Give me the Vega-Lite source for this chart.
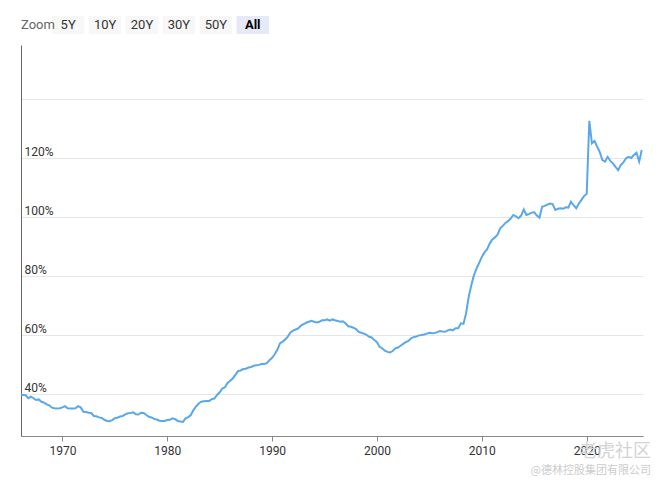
{
  "$schema": "https://vega.github.io/schema/vega-lite/v6.json",
  "background": "white",
  "padding": {"left": 21, "top": 16, "right": 0, "bottom": 0},
  "config": {"view": {"stroke": null}, "font": "Roboto", "concat": {"spacing": 11}},
  "vconcat": [
    {
      "width": 254,
      "height": 18,
      "data": {"values": [
        {"label": "Zoom"}, {"label": "5Y"}, {"label": "10Y"}, {"label": "20Y"},
        {"label": "30Y"}, {"label": "50Y"}, {"label": "All"}
      ]},
      "encoding": {
        "x": {"field": "label", "type": "nominal", "axis": null,
              "scale": {"domain": ["Zoom", "5Y", "10Y", "20Y", "30Y", "50Y", "All"], "paddingInner": 0.12, "paddingOuter": 0}}
      },
      "layer": [
        {
          "transform": [{"filter": "datum.label !== 'Zoom'"}],
          "mark": {"type": "rect", "xOffset": -6, "x2Offset": -6},
          "encoding": {
            "color": {"condition": {"test": "datum.label === 'All'", "value": "#e6e9f8"}, "value": "#f7f7f7"}
          }
        },
        {
          "transform": [{"filter": "datum.label === 'Zoom'"}],
          "mark": {"type": "text", "align": "left", "fontSize": 13, "color": "#666666"},
          "encoding": {"x": {"field": "label", "type": "nominal", "bandPosition": 0}, "text": {"field": "label"}}
        },
        {
          "transform": [{"filter": "datum.label !== 'Zoom' && datum.label !== 'All'"}],
          "mark": {"type": "text", "xOffset": -6, "fontSize": 13, "color": "#333333"},
          "encoding": {"text": {"field": "label"}}
        },
        {
          "transform": [{"filter": "datum.label === 'All'"}],
          "mark": {"type": "text", "xOffset": -6, "fontSize": 13, "fontWeight": "bold", "color": "#000000"},
          "encoding": {"text": {"field": "label"}}
        }
      ]
    },
    {
      "width": 622,
      "height": 391,
      "title": {
        "text": "老虎社区",
        "subtitle": "@德林控股集团有限公司",
        "orient": "bottom",
        "anchor": "end",
        "offset": -13,
        "dx": 8,
        "font": "Noto Sans CJK SC",
        "fontSize": 18,
        "fontWeight": "normal",
        "color": "#d4d4d4",
        "subtitleFont": "Noto Sans CJK SC",
        "subtitleFontSize": 11,
        "subtitleColor": "#cccccc",
        "subtitlePadding": 4
      },
      "data": {"values": [
        {"date": "1966-01-01", "value": 39.8}, {"date": "1966-04-01", "value": 39.7}, {"date": "1966-07-01", "value": 39.6}, {"date": "1966-10-01", "value": 38.6},
        {"date": "1967-01-01", "value": 39.1}, {"date": "1967-04-01", "value": 38.6}, {"date": "1967-07-01", "value": 38.0}, {"date": "1967-10-01", "value": 38.2},
        {"date": "1968-01-01", "value": 37.4}, {"date": "1968-04-01", "value": 37.1}, {"date": "1968-07-01", "value": 36.5}, {"date": "1968-10-01", "value": 36.2},
        {"date": "1969-01-01", "value": 35.4}, {"date": "1969-04-01", "value": 35.2}, {"date": "1969-07-01", "value": 35.1}, {"date": "1969-10-01", "value": 35.2},
        {"date": "1970-01-01", "value": 35.5}, {"date": "1970-04-01", "value": 35.9}, {"date": "1970-07-01", "value": 35.2}, {"date": "1970-10-01", "value": 35.1},
        {"date": "1971-01-01", "value": 35.1}, {"date": "1971-04-01", "value": 35.2}, {"date": "1971-07-01", "value": 35.9}, {"date": "1971-10-01", "value": 35.5},
        {"date": "1972-01-01", "value": 34.0}, {"date": "1972-04-01", "value": 33.9}, {"date": "1972-07-01", "value": 33.7}, {"date": "1972-10-01", "value": 33.6},
        {"date": "1973-01-01", "value": 32.6}, {"date": "1973-04-01", "value": 32.5}, {"date": "1973-07-01", "value": 32.1}, {"date": "1973-10-01", "value": 31.9},
        {"date": "1974-01-01", "value": 31.3}, {"date": "1974-04-01", "value": 30.9}, {"date": "1974-07-01", "value": 30.8}, {"date": "1974-10-01", "value": 31.2},
        {"date": "1975-01-01", "value": 31.8}, {"date": "1975-04-01", "value": 32.0}, {"date": "1975-07-01", "value": 32.4}, {"date": "1975-10-01", "value": 32.6},
        {"date": "1976-01-01", "value": 33.1}, {"date": "1976-04-01", "value": 33.5}, {"date": "1976-07-01", "value": 33.6}, {"date": "1976-10-01", "value": 33.8},
        {"date": "1977-01-01", "value": 33.2}, {"date": "1977-04-01", "value": 33.1}, {"date": "1977-07-01", "value": 33.7}, {"date": "1977-10-01", "value": 33.6},
        {"date": "1978-01-01", "value": 32.9}, {"date": "1978-04-01", "value": 32.3}, {"date": "1978-07-01", "value": 32.1}, {"date": "1978-10-01", "value": 31.6},
        {"date": "1979-01-01", "value": 31.4}, {"date": "1979-04-01", "value": 31.0}, {"date": "1979-07-01", "value": 30.9}, {"date": "1979-10-01", "value": 30.9},
        {"date": "1980-01-01", "value": 31.2}, {"date": "1980-04-01", "value": 31.3}, {"date": "1980-07-01", "value": 31.8}, {"date": "1980-10-01", "value": 31.5},
        {"date": "1981-01-01", "value": 30.9}, {"date": "1981-04-01", "value": 30.7}, {"date": "1981-07-01", "value": 30.6}, {"date": "1981-10-01", "value": 31.8},
        {"date": "1982-01-01", "value": 32.2}, {"date": "1982-04-01", "value": 32.9}, {"date": "1982-07-01", "value": 34.6}, {"date": "1982-10-01", "value": 35.8},
        {"date": "1983-01-01", "value": 36.8}, {"date": "1983-04-01", "value": 37.4}, {"date": "1983-07-01", "value": 37.6}, {"date": "1983-10-01", "value": 37.7},
        {"date": "1984-01-01", "value": 37.7}, {"date": "1984-04-01", "value": 38.3}, {"date": "1984-07-01", "value": 38.5}, {"date": "1984-10-01", "value": 39.7},
        {"date": "1985-01-01", "value": 40.6}, {"date": "1985-04-01", "value": 41.9}, {"date": "1985-07-01", "value": 42.3}, {"date": "1985-10-01", "value": 43.8},
        {"date": "1986-01-01", "value": 44.5}, {"date": "1986-04-01", "value": 45.3}, {"date": "1986-07-01", "value": 46.5}, {"date": "1986-10-01", "value": 47.8},
        {"date": "1987-01-01", "value": 48.0}, {"date": "1987-04-01", "value": 48.5}, {"date": "1987-07-01", "value": 48.6}, {"date": "1987-10-01", "value": 49.0},
        {"date": "1988-01-01", "value": 49.2}, {"date": "1988-04-01", "value": 49.6}, {"date": "1988-07-01", "value": 49.8}, {"date": "1988-10-01", "value": 49.9},
        {"date": "1989-01-01", "value": 50.2}, {"date": "1989-04-01", "value": 50.2}, {"date": "1989-07-01", "value": 50.5}, {"date": "1989-10-01", "value": 51.5},
        {"date": "1990-01-01", "value": 52.3}, {"date": "1990-04-01", "value": 53.5}, {"date": "1990-07-01", "value": 55.0}, {"date": "1990-10-01", "value": 57.2},
        {"date": "1991-01-01", "value": 57.8}, {"date": "1991-04-01", "value": 58.5}, {"date": "1991-07-01", "value": 59.5}, {"date": "1991-10-01", "value": 60.9},
        {"date": "1992-01-01", "value": 61.5}, {"date": "1992-04-01", "value": 61.9}, {"date": "1992-07-01", "value": 62.3}, {"date": "1992-10-01", "value": 63.2},
        {"date": "1993-01-01", "value": 63.7}, {"date": "1993-04-01", "value": 64.2}, {"date": "1993-07-01", "value": 64.5}, {"date": "1993-10-01", "value": 64.8},
        {"date": "1994-01-01", "value": 64.5}, {"date": "1994-04-01", "value": 64.3}, {"date": "1994-07-01", "value": 64.5}, {"date": "1994-10-01", "value": 65.0},
        {"date": "1995-01-01", "value": 65.0}, {"date": "1995-04-01", "value": 65.3}, {"date": "1995-07-01", "value": 64.9}, {"date": "1995-10-01", "value": 65.3},
        {"date": "1996-01-01", "value": 65.0}, {"date": "1996-04-01", "value": 64.8}, {"date": "1996-07-01", "value": 64.5}, {"date": "1996-10-01", "value": 64.7},
        {"date": "1997-01-01", "value": 64.0}, {"date": "1997-04-01", "value": 63.0}, {"date": "1997-07-01", "value": 62.8}, {"date": "1997-10-01", "value": 62.5},
        {"date": "1998-01-01", "value": 62.0}, {"date": "1998-04-01", "value": 61.1}, {"date": "1998-07-01", "value": 60.8}, {"date": "1998-10-01", "value": 60.5},
        {"date": "1999-01-01", "value": 60.1}, {"date": "1999-04-01", "value": 59.4}, {"date": "1999-07-01", "value": 59.2}, {"date": "1999-10-01", "value": 58.3},
        {"date": "2000-01-01", "value": 57.6}, {"date": "2000-04-01", "value": 56.0}, {"date": "2000-07-01", "value": 55.5}, {"date": "2000-10-01", "value": 54.7},
        {"date": "2001-01-01", "value": 54.3}, {"date": "2001-04-01", "value": 54.1}, {"date": "2001-07-01", "value": 54.6}, {"date": "2001-10-01", "value": 55.5},
        {"date": "2002-01-01", "value": 55.8}, {"date": "2002-04-01", "value": 56.4}, {"date": "2002-07-01", "value": 57.0}, {"date": "2002-10-01", "value": 57.6},
        {"date": "2003-01-01", "value": 58.0}, {"date": "2003-04-01", "value": 58.9}, {"date": "2003-07-01", "value": 59.3}, {"date": "2003-10-01", "value": 59.5},
        {"date": "2004-01-01", "value": 59.9}, {"date": "2004-04-01", "value": 60.0}, {"date": "2004-07-01", "value": 60.2}, {"date": "2004-10-01", "value": 60.5},
        {"date": "2005-01-01", "value": 60.8}, {"date": "2005-04-01", "value": 60.6}, {"date": "2005-07-01", "value": 60.7}, {"date": "2005-10-01", "value": 61.0},
        {"date": "2006-01-01", "value": 61.4}, {"date": "2006-04-01", "value": 61.2}, {"date": "2006-07-01", "value": 61.1}, {"date": "2006-10-01", "value": 61.6},
        {"date": "2007-01-01", "value": 61.9}, {"date": "2007-04-01", "value": 61.6}, {"date": "2007-07-01", "value": 62.3}, {"date": "2007-10-01", "value": 62.3},
        {"date": "2008-01-01", "value": 64.0}, {"date": "2008-04-01", "value": 63.8}, {"date": "2008-07-01", "value": 67.4}, {"date": "2008-10-01", "value": 73.0},
        {"date": "2009-01-01", "value": 77.0}, {"date": "2009-04-01", "value": 80.3}, {"date": "2009-07-01", "value": 82.6}, {"date": "2009-10-01", "value": 84.5},
        {"date": "2010-01-01", "value": 86.5}, {"date": "2010-04-01", "value": 88.0}, {"date": "2010-07-01", "value": 89.0}, {"date": "2010-10-01", "value": 91.0},
        {"date": "2011-01-01", "value": 92.4}, {"date": "2011-04-01", "value": 93.1}, {"date": "2011-07-01", "value": 94.0}, {"date": "2011-10-01", "value": 96.2},
        {"date": "2012-01-01", "value": 97.0}, {"date": "2012-04-01", "value": 98.0}, {"date": "2012-07-01", "value": 98.6}, {"date": "2012-10-01", "value": 99.5},
        {"date": "2013-01-01", "value": 100.7}, {"date": "2013-04-01", "value": 100.2}, {"date": "2013-07-01", "value": 99.6}, {"date": "2013-10-01", "value": 100.5},
        {"date": "2014-01-01", "value": 102.6}, {"date": "2014-04-01", "value": 100.7}, {"date": "2014-07-01", "value": 101.0}, {"date": "2014-10-01", "value": 101.5},
        {"date": "2015-01-01", "value": 101.6}, {"date": "2015-04-01", "value": 100.5}, {"date": "2015-07-01", "value": 99.8}, {"date": "2015-10-01", "value": 103.5},
        {"date": "2016-01-01", "value": 103.8}, {"date": "2016-04-01", "value": 104.2}, {"date": "2016-07-01", "value": 104.6}, {"date": "2016-10-01", "value": 104.4},
        {"date": "2017-01-01", "value": 102.4}, {"date": "2017-04-01", "value": 102.8}, {"date": "2017-07-01", "value": 103.0}, {"date": "2017-10-01", "value": 102.8},
        {"date": "2018-01-01", "value": 103.3}, {"date": "2018-04-01", "value": 103.2}, {"date": "2018-07-01", "value": 105.2}, {"date": "2018-10-01", "value": 104.0},
        {"date": "2019-01-01", "value": 103.0}, {"date": "2019-04-01", "value": 104.5}, {"date": "2019-07-01", "value": 105.8}, {"date": "2019-10-01", "value": 107.1},
        {"date": "2020-01-01", "value": 107.9}, {"date": "2020-04-01", "value": 132.6}, {"date": "2020-07-01", "value": 125.0}, {"date": "2020-10-01", "value": 125.8},
        {"date": "2021-01-01", "value": 123.8}, {"date": "2021-04-01", "value": 122.0}, {"date": "2021-07-01", "value": 119.3}, {"date": "2021-10-01", "value": 118.8},
        {"date": "2022-01-01", "value": 120.4}, {"date": "2022-04-01", "value": 119.0}, {"date": "2022-07-01", "value": 118.2}, {"date": "2022-10-01", "value": 117.0},
        {"date": "2023-01-01", "value": 115.9}, {"date": "2023-04-01", "value": 117.6}, {"date": "2023-07-01", "value": 118.5}, {"date": "2023-10-01", "value": 119.9},
        {"date": "2024-01-01", "value": 120.4}, {"date": "2024-04-01", "value": 120.0}, {"date": "2024-07-01", "value": 121.0}, {"date": "2024-10-01", "value": 121.8},
        {"date": "2025-01-01", "value": 118.8}, {"date": "2025-04-01", "value": 122.7}
      ]},
      "mark": {"type": "line", "color": "#5aa8e8", "strokeWidth": 2, "clip": true},
      "encoding": {
        "x": {
          "field": "date",
          "type": "temporal",
          "scale": {"domain": [{"year": 1966, "month": 1, "date": 20}, {"year": 2025, "month": 5, "date": 15}]},
          "axis": {
            "title": null,
            "values": [{"year": 1970}, {"year": 1980}, {"year": 1990}, {"year": 2000}, {"year": 2010}, {"year": 2020}],
            "format": "%Y",
            "grid": false,
            "domainColor": "#888888",
            "tickColor": "#888888",
            "tickSize": 5,
            "labelColor": "#333333",
            "labelFontSize": 12,
            "labelPadding": 4
          }
        },
        "y": {
          "field": "value",
          "type": "quantitative",
          "scale": {"domain": [25.8, 158.3], "nice": false, "zero": false},
          "axis": {
            "title": null,
            "values": [40, 60, 80, 100, 120, 140],
            "labelExpr": "datum.value == 140 ? '' : datum.value + '%'",
            "grid": true,
            "gridColor": "#e6e6e6",
            "domainColor": "#666666",
            "ticks": false,
            "tickSize": 0,
            "labelAlign": "left",
            "labelBaseline": "bottom",
            "labelPadding": -3,
            "labelColor": "#333333",
            "labelFontSize": 12
          }
        }
      }
    }
  ]
}
